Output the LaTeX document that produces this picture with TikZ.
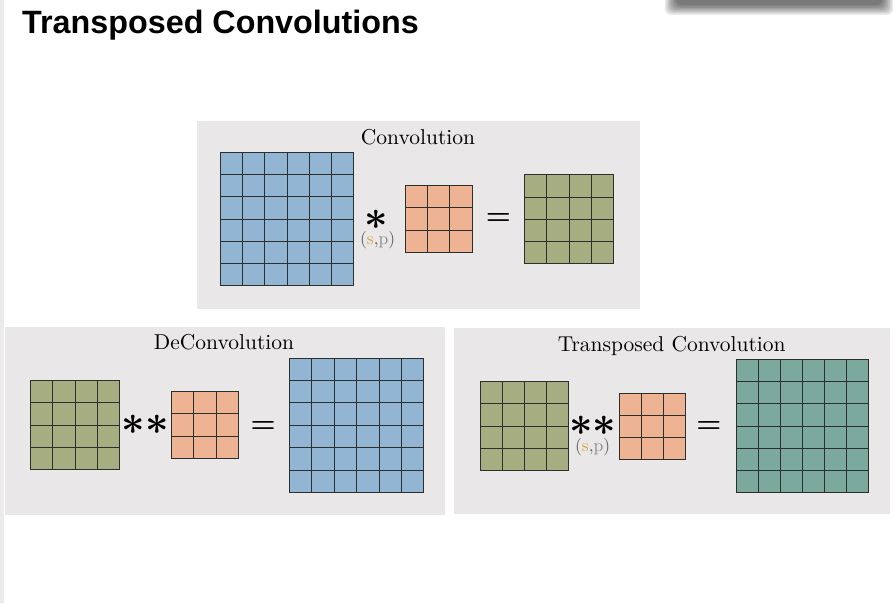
\documentclass[tikz,border=0pt]{standalone}
\usepackage{graphicx}
\usepackage{fontspec}
\newfontfamily\titlefont{Liberation Sans}
\newfontfamily\lmten{lmroman10-regular}[Extension=.otf]
\newfontfamily\lmtenb{lmroman10-bold}[Extension=.otf]
\usetikzlibrary{calc}
\definecolor{panelbg}{HTML}{E9E7E8}
\definecolor{cblue}{HTML}{93B5D4}
\definecolor{corange}{HTML}{EDB392}
\definecolor{colive}{HTML}{A5AD81}
\definecolor{cteal}{HTML}{7BA99D}
\definecolor{gline}{HTML}{2B302C}
\definecolor{sgold}{HTML}{D6A843}
\definecolor{pgray}{HTML}{8A8A8A}
\definecolor{pargray}{HTML}{5A5A5A}
\definecolor{stripgray}{HTML}{EBEBEB}
\tikzset{
  panel/.style={fill=panelbg, draw=none},
  gridbox/.style n args={2}{draw=gline, line width=1pt, inner sep=0pt, outer sep=0pt,
     minimum width=#1*#2*1pt, minimum height=#1*#2*1pt},
  gl/.style={draw=gline, line width=1pt},
  lbl/.style={font=\lmten\fontsize{21.5}{25}\selectfont, anchor=base, inner sep=0pt},
  opstar/.style={font=\fontsize{10}{12}\selectfont\boldmath, inner sep=0pt},
  opeq/.style={font=\lmtenb\fontsize{28}{32}\selectfont, inner sep=0pt},
  sp/.style={font=\lmten\fontsize{17.5}{20}\selectfont, anchor=base, inner sep=0pt},
}
\newcommand\gridlines[2]{%
  \pgfmathtruncatemacro\gm{#2-1}%
  \foreach \k in {1,...,\gm}{%
    \draw[gl] ($(#1.north west)!\k/#2!(#1.north east)$) -- ($(#1.south west)!\k/#2!(#1.south east)$);
    \draw[gl] ($(#1.north west)!\k/#2!(#1.south west)$) -- ($(#1.north east)!\k/#2!(#1.south east)$);
  }}
\newcommand\sptext{{\color{pargray}(}{\color{sgold}s}{\color{pargray},}{\color{pgray}p}{\color{pargray})}}
\newcommand\bigast[1]{\scalebox{4.1}{$#1$}}
\begin{document}
\begin{tikzpicture}[x=1pt,y=-1pt]
\useasboundingbox (0,0) rectangle (895,603);
\fill[white] (0,0) rectangle (895,603);
\fill[stripgray] (0,0) rectangle (3.5,603);
% shadow at top right
\foreach \d in {0,...,7}
  \fill[black, opacity=0.085, rounded corners=6pt] ({676-1.6*\d},-14) rectangle ({882+1.6*\d},{5+1.4*\d});
% title
\node[font=\titlefont\bfseries\fontsize{32.3}{36}\selectfont, anchor=base west, inner sep=0pt] (title) at (22,33) {Transposed Convolutions};
% panels
\fill[panel] (197,121) rectangle (640,309);
\fill[panel] (5,326.7) rectangle (445,515);
\fill[panel] (454,328.3) rectangle (890,514.3);

% ---- Convolution panel
\node[lbl] (ctitle) at (418,144) {Convolution};
\node[gridbox={6}{22.3}, fill=cblue] (cin) at (287,219) {};
\gridlines{cin}{6}
\node[opstar] (cstar) at (376,220) {\bigast{\ast}};
\node[sp] (csp) at (377.7,244) {\sptext};
\node[gridbox={3}{22.3}, fill=corange] (ck) at (438.8,219) {};
\gridlines{ck}{3}
\node[opeq] (ceq) at (498.3,219.2) {=};
\node[gridbox={4}{22.3}, fill=colive] (cout) at (569,219.3) {};
\gridlines{cout}{4}

% ---- DeConvolution panel
\node[lbl] (dtitle) at (224,349.3) {DeConvolution};
\node[gridbox={4}{22.3}, fill=colive] (din) at (75,425.2) {};
\gridlines{din}{4}
\node[opstar] (dstar) at (145.2,425) {\bigast{{\ast}{\ast}}};
\node[gridbox={3}{22.4}, fill=corange] (dk) at (204.8,425) {};
\gridlines{dk}{3}
\node[opeq] (deq) at (263.2,426.7) {=};
\node[gridbox={6}{22.4}, fill=cblue] (dout) at (356.7,425.3) {};
\gridlines{dout}{6}

% ---- Transposed Convolution panel
\node[lbl] (ttitle) at (671.7,351) {Transposed Convolution};
\node[gridbox={4}{22.1}, fill=colive] (tin) at (524.2,426) {};
\gridlines{tin}{4}
\node[opstar] (tstar) at (592.8,425.8) {\bigast{{\ast}{\ast}}};
\node[sp] (tsp) at (592.7,451) {\sptext};
\node[gridbox={3}{22.2}, fill=corange] (tk) at (652.3,426.3) {};
\gridlines{tk}{3}
\node[opeq] (teq) at (709,427) {=};
\node[gridbox={6}{22.1}, fill=cteal] (tout) at (802.3,426) {};
\gridlines{tout}{6}
\end{tikzpicture}
\end{document}
